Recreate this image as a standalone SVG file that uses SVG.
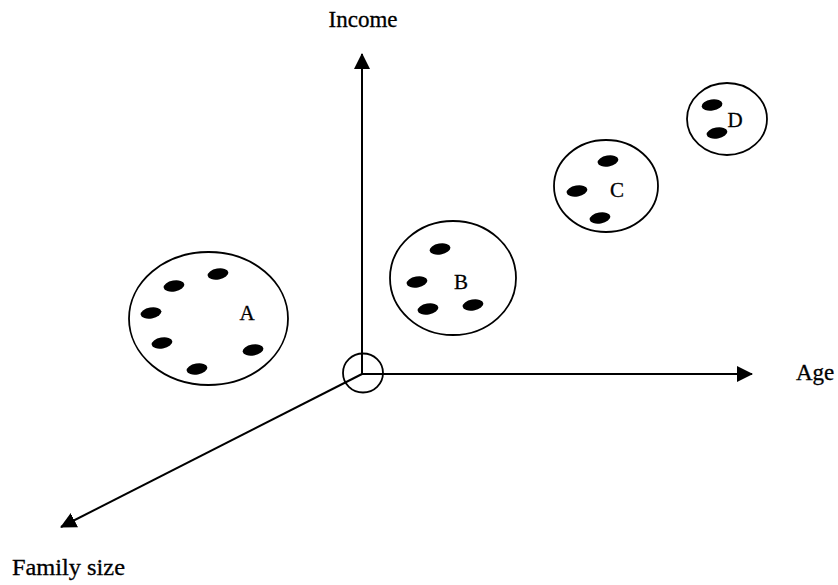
<svg xmlns="http://www.w3.org/2000/svg" width="838" height="585" viewBox="0 0 838 585">
<defs>
<marker id="ah" viewBox="0 0 16 16" refX="15" refY="8" markerWidth="16" markerHeight="16" markerUnits="userSpaceOnUse" orient="auto">
<path d="M0,0 L16,8 L0,16 Z" fill="#000"/>
</marker>
</defs>
<style>
.c{fill:none;stroke:#000;stroke-width:1.8}
.ax{stroke:#000;stroke-width:2;fill:none}
.d{fill:#000}
text{font-family:"Liberation Serif","Times New Roman",serif;font-size:21px;fill:#000;stroke:#000;stroke-width:0.3}
.lbl{font-size:23px}
</style>
<rect width="838" height="585" fill="#fff"/>
<g id="connectors">
<line class="ax" x1="362" y1="374" x2="362" y2="54" marker-end="url(#ah)"/>
<line class="ax" x1="362" y1="374" x2="752" y2="374" marker-end="url(#ah)"/>
<line class="ax" x1="362" y1="374" x2="61" y2="527" marker-end="url(#ah)"/>
</g>
<g id="origin"><ellipse class="c" cx="363" cy="373" rx="20" ry="19.5"/></g>
<g id="axis-income"><text class="lbl" x="363" y="27" text-anchor="middle">Income</text></g>
<g id="axis-age"><text class="lbl" x="796" y="380">Age</text></g>
<g id="axis-family"><text class="lbl" x="12" y="575" stroke-width="0.8" textLength="113" lengthAdjust="spacingAndGlyphs">Family size</text></g>
<g id="cluster-A">
<ellipse class="c" cx="208.5" cy="318.5" rx="79.5" ry="66.5"/>
<ellipse class="d" cx="218" cy="274" rx="10.5" ry="5.5" transform="rotate(-10 218 274)"/>
<ellipse class="d" cx="174" cy="286" rx="10.5" ry="5.5" transform="rotate(-10 174 286)"/>
<ellipse class="d" cx="151" cy="313" rx="10.5" ry="5.5" transform="rotate(-10 151 313)"/>
<ellipse class="d" cx="162" cy="343" rx="10.5" ry="5.5" transform="rotate(-10 162 343)"/>
<ellipse class="d" cx="197" cy="369" rx="10.5" ry="5.5" transform="rotate(-10 197 369)"/>
<ellipse class="d" cx="253" cy="350" rx="10.5" ry="5.5" transform="rotate(-10 253 350)"/>
<text x="247" y="320" text-anchor="middle">A</text>
</g>
<g id="cluster-B">
<ellipse class="c" cx="453" cy="278" rx="63" ry="57"/>
<ellipse class="d" cx="440" cy="249" rx="10.5" ry="5.5" transform="rotate(-10 440 249)"/>
<ellipse class="d" cx="417" cy="282" rx="10.5" ry="5.5" transform="rotate(-10 417 282)"/>
<ellipse class="d" cx="428" cy="309" rx="10.5" ry="5.5" transform="rotate(-10 428 309)"/>
<ellipse class="d" cx="473" cy="305" rx="10.5" ry="5.5" transform="rotate(-10 473 305)"/>
<text x="461" y="289" text-anchor="middle">B</text>
</g>
<g id="cluster-C">
<ellipse class="c" cx="606" cy="186" rx="52" ry="46"/>
<ellipse class="d" cx="608" cy="161" rx="10.5" ry="5.5" transform="rotate(-10 608 161)"/>
<ellipse class="d" cx="577" cy="191" rx="10.5" ry="5.5" transform="rotate(-10 577 191)"/>
<ellipse class="d" cx="600" cy="218" rx="10.5" ry="5.5" transform="rotate(-10 600 218)"/>
<text x="617" y="197" text-anchor="middle">C</text>
</g>
<g id="cluster-D">
<ellipse class="c" cx="727" cy="119" rx="40" ry="36"/>
<ellipse class="d" cx="712" cy="105" rx="10.5" ry="5.5" transform="rotate(-8 712 105)"/>
<ellipse class="d" cx="717" cy="133" rx="10.5" ry="5.5" transform="rotate(-10 717 133)"/>
<text x="735" y="127" text-anchor="middle">D</text>
</g>
</svg>
